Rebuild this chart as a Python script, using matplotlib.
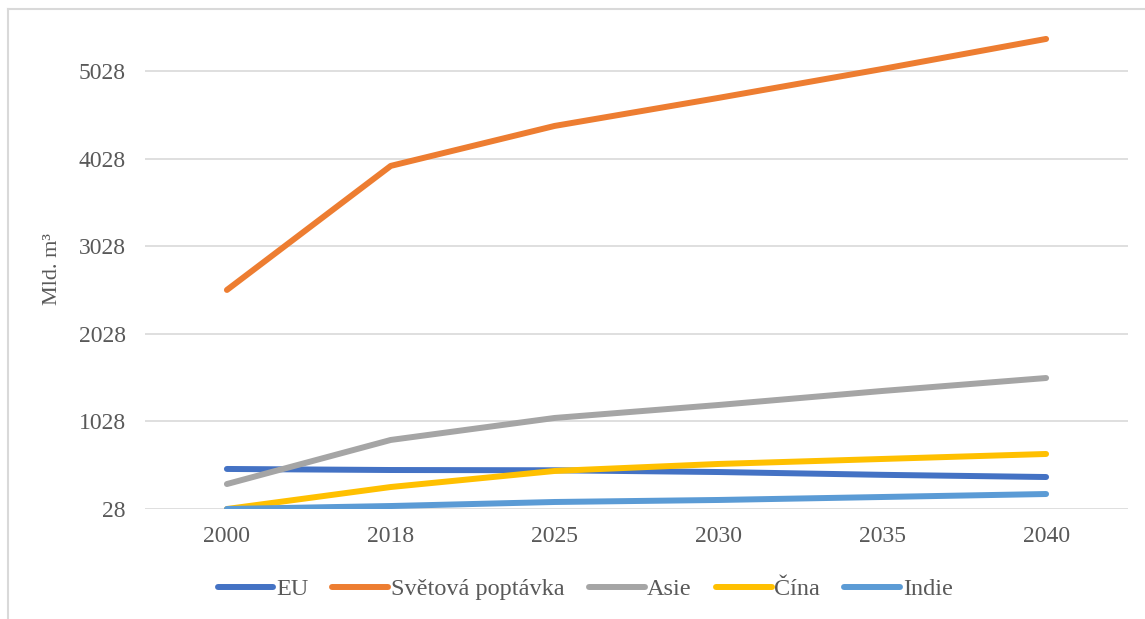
import numpy as np
import matplotlib
matplotlib.use("Agg")
import matplotlib.pyplot as plt
from matplotlib.lines import Line2D

# Demand for natural gas, bn m3
years = ["2000", "2018", "2025", "2030", "2035", "2040"]
eu = [485, 473, 470, 450, 418, 393]
world = [2528, 3944, 4400, 4720, 5050, 5393]
asia = [313, 816, 1067, 1215, 1375, 1523]
china = [28, 279, 462, 542, 599, 656]
india = [28, 62, 108, 131, 165, 199]

series = [
    ("EU", eu, "#4472C4"),
    ("Světová poptávka", world, "#ED7D31"),
    ("Asie", asia, "#A5A5A5"),
    ("Čína", china, "#FFC000"),
    ("Indie", india, "#5B9BD5"),
]
yticks = [28, 1028, 2028, 3028, 4028, 5028]

plt.rcParams["font.family"] = ["Liberation Serif", "DejaVu Serif"]
text_col = "#595959"

fig = plt.figure(figsize=(11.45, 6.19), dpi=100)
ax = fig.add_axes([145 / 1145, 110 / 619, (1128 - 145) / 1145, (509 - 30) / 619])

x = np.arange(len(years))
for name, vals, col in series:
    ax.plot(x, vals, color=col, lw=4.3, solid_capstyle="round", label=name)

ax.set_xlim(-0.5, len(years) - 0.5)
ax.set_ylim(28, 5495)
ax.set_xticks(x)
ax.set_xticklabels(years)
ax.set_yticks(yticks)
ax.set_yticklabels([str(t) for t in yticks])
ax.tick_params(length=0, labelsize=17, colors=text_col)
ax.tick_params(axis="x", pad=12)
ax.tick_params(axis="y", pad=14)
ax.yaxis.grid(True, color="#D9D9D9", lw=1.2)
ax.set_axisbelow(True)
for s in ax.spines.values():
    s.set_visible(False)

ax.set_ylabel("Mld. m³", fontsize=16, color=text_col, labelpad=12)

leg = fig.legend(loc="center", bbox_to_anchor=(0.511, 1 - 589 / 619), ncol=5,
                 frameon=False, fontsize=17.5, handlelength=2.3, handletextpad=0.1,
                 columnspacing=1.0, labelcolor=text_col)

# chart frame
fig.add_artist(Line2D([8 / 1145, 8 / 1145], [0, 1 - 9 / 619], color="#D9D9D9", lw=1.5))
fig.add_artist(Line2D([8 / 1145, 1], [1 - 9 / 619, 1 - 9 / 619], color="#D9D9D9", lw=1.5))

fig.savefig("out.png", dpi=100)
